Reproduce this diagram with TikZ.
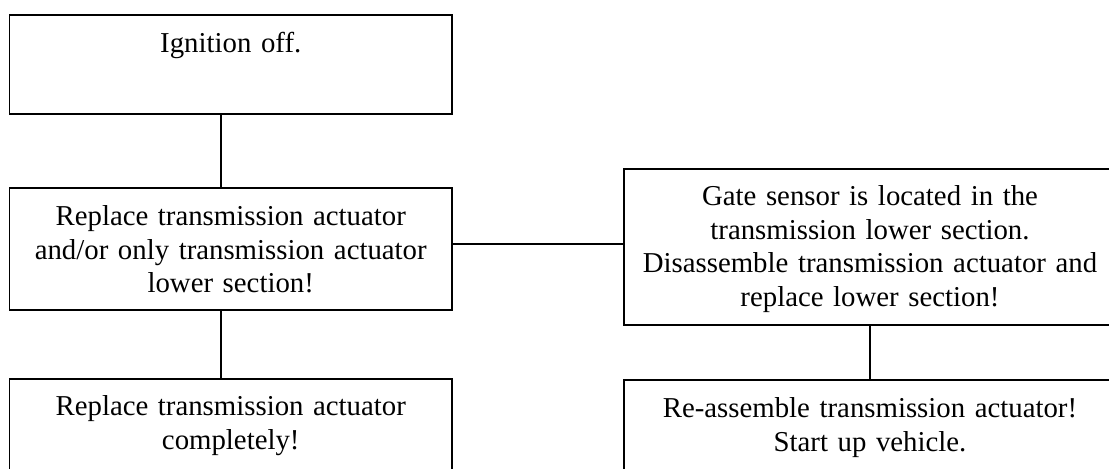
\documentclass[tikz,border=0pt]{standalone}
\usepackage{fontspec}
\setmainfont{Liberation Serif}
\begin{document}
\begin{tikzpicture}[
  x=0.5pt, y=-0.5pt,
  every node/.style={font=\fontsize{14.4}{16.75}\selectfont},
  stepbox/.style={draw, line width=0.75pt, anchor=north, align=center, inner sep=0pt},
  leftbox/.style={stepbox, text width=221.25pt},
  rightbox/.style={stepbox, text width=246pt},
  link/.style={line width=0.75pt},
]

% ---- Page: 1109 x 468 px, 1 px = 0.5 pt, y runs downwards ----
\clip (0,0) rectangle (1109,468);

% ---- Left column ----
\node[leftbox, text height=19pt, text depth=30.5pt] (ignition) at (230.75,14) {Ignition off.};

\node[leftbox, text height=19pt, text depth=42pt] (replace) at (230.75,187) {
  Replace transmission actuator\\
  and/or only transmission actuator\\
  lower section!};

\node[leftbox, text height=18.5pt, text depth=60pt] (complete) at (230.75,378) {
  Replace transmission actuator\\
  completely!};

% ---- Right column ----
\node[rightbox, text height=18.5pt, text depth=59.5pt] (gate) at (870,168) {
  Gate sensor is located in the\\
  transmission lower section.\\
  Disassemble transmission actuator and\\
  replace lower section!};

\node[rightbox, text height=19pt, text depth=60pt] (reassemble) at (870,379) {
  Re-assemble transmission actuator!\\
  Start up vehicle.};

% ---- Connectors ----
\draw[link] ([xshift=-5pt]ignition.south) -- ([xshift=-5pt]replace.north);
\draw[link] ([xshift=-5pt]replace.south) -- ([xshift=-5pt]complete.north);
\draw[link] ([yshift=2.5pt]replace.east) -- ([yshift=2.5pt]replace.east -| gate.west);
\draw[link] (gate.south) -- (reassemble.north);

\end{tikzpicture}
\end{document}
